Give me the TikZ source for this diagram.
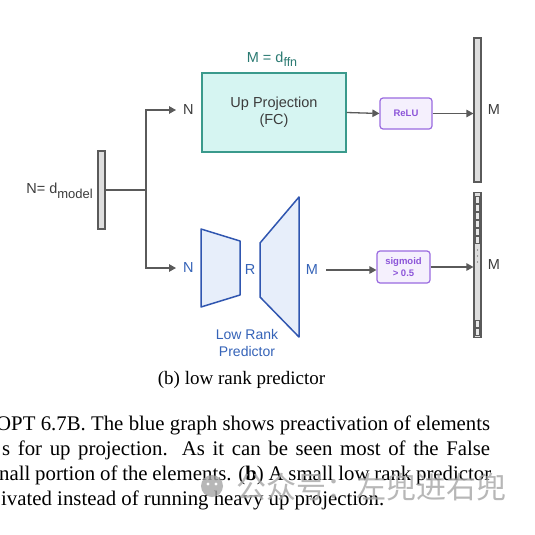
\documentclass[tikz,border=0pt]{standalone}
\usepackage{fontspec}
\setmainfont{Liberation Serif}
\setsansfont{Liberation Sans}
\newfontfamily\cjk{Noto Sans CJK SC}
\usetikzlibrary{arrows.meta,positioning}
\definecolor{lineg}{HTML}{5A5A5A}
\definecolor{barfill}{HTML}{DEDEDE}
\definecolor{labg}{HTML}{3C3C3C}
\definecolor{tealdraw}{HTML}{3A9A8C}
\definecolor{tealfill}{HTML}{D6F5F2}
\definecolor{tealtext}{HTML}{2A7A72}
\definecolor{actdraw}{HTML}{9A6BE0}
\definecolor{actfill}{HTML}{F5F0FD}
\definecolor{acttext}{HTML}{8C55D9}
\definecolor{trapdraw}{HTML}{3056B0}
\definecolor{trapfill}{HTML}{E7EEFA}
\definecolor{traptext}{HTML}{3563B8}
\newcommand{\lowsub}[2]{#1\raisebox{-4pt}{\fontsize{#2}{#2}\selectfont}}
\tikzset{
  vbar/.style={draw=lineg,fill=barfill,line width=1.2pt,minimum width=7pt,inner sep=0pt},
  lbl/.style={font=\sffamily\fontsize{14.5}{17}\selectfont,text=labg,inner sep=0pt},
  trlbl/.style={lbl,text=traptext},
  link/.style={draw=lineg,line width=1.3pt},
  arr/.style={link,-{Triangle[length=7pt,width=7.5pt]}},
  projbox/.style={draw=tealdraw,fill=tealfill,line width=1.2pt,minimum width=144pt,minimum height=79pt,align=center,
    font=\sffamily\fontsize{14.5}{17}\selectfont,text=labg},
  actbox/.style={draw=actdraw,fill=actfill,line width=1.2pt,rounded corners=3pt,align=center,inner sep=0pt,
    font=\sffamily\bfseries\fontsize{9.5}{11.5}\selectfont,text=acttext},
  trap/.style={draw=trapdraw,fill=trapfill,line width=1.5pt,line join=round},
  cell/.style={draw=lineg,fill=barfill!70!white,line width=0.5pt},
  capt/.style={font=\rmfamily\fontsize{19}{21}\selectfont,inner sep=0pt,anchor=base},
  bodyline/.style={font=\rmfamily\fontsize{20.8}{25}\selectfont,inner sep=0pt,anchor=base west},
  wmark/.style={font=\cjk\fontsize{30}{30}\selectfont,text=black!35,opacity=0.8,inner sep=0pt,anchor=west}
}
\begin{document}
\begin{tikzpicture}[x=1pt,y=-1pt]
\clip(0,0)rectangle(535,535);
\fill[white](0,0)rectangle(535,535);
\pgfmathsetmacro{\barx}{477.5}
\pgfmathsetmacro{\upy}{110}
\pgfmathsetmacro{\lowy}{268}
\node[vbar,minimum height=78pt](inp)at(101.5,190){};
\node[lbl,anchor=base east](nmodel)at(93,193){N= d\raisebox{-5pt}{\fontsize{13}{13}\selectfont model}};
\coordinate(split)at(146,190);
\draw[link](inp.east)--(split);
\coordinate(upin)at(176,\upy);
\coordinate(lowin)at(176,\lowy);
\draw[arr](split)|-(upin);
\draw[arr](split)|-(lowin);
\node[lbl,right=7pt of upin](nup){N};
\node[trlbl,right=7pt of lowin](nlow){N};
\node[projbox](upproj)at(274,112.5){Up Projection\\(FC)};
\node[lbl,text=tealtext,anchor=base](mffn)at(272,63){M = d\raisebox{-4pt}{\fontsize{12.5}{12.5}\selectfont ffn}};
\node[actbox,minimum width=52pt,minimum height=31pt](relu)at(406,113.5){ReLU};
\node[vbar,minimum height=144pt](outup)at(\barx,110){};
\node[lbl,right=6pt of outup](mup){M};
\draw[arr](upproj.east)--(relu.west);
\draw[arr](relu.east)--(relu.east-|outup.west);
\draw[trap](201,229)--(240,241)--(240,295)--(201,307)--cycle;
\draw[trap](260,243)--(299,197)--(299,337)--(260,297)--cycle;
\node[trlbl](rlab)at(250,270){R};
\node[trlbl](mlow)at(312,270){M};
\node[trlbl,align=center,font=\sffamily\fontsize{14}{17}\selectfont](lrp)at(247,342.5){Low Rank\\Predictor};
\node[actbox,minimum width=53pt,minimum height=32pt](sig)at(403.5,267){sigmoid\\> 0.5};
\node[vbar,minimum height=145pt](outlow)at(\barx,265){};
\node[lbl,right=6pt of outlow](mlo){M};
\draw[arr]([xshift=8pt]mlow.east)--(sig.west|-mlow.east);
\draw[arr](sig.east)--(sig.east-|outlow.west);
\foreach \k in {0,...,5}{\draw[cell](\barx-2,196+\k*8)rectangle++(4,7);}
\foreach \k in {0,1}{\draw[cell](\barx-2,320+\k*8)rectangle++(4,7);}
\foreach \dy in {250,256,262}{\fill[lineg](\barx,\dy)circle(0.7);}
\node[capt](subcap)at(241.5,384){(b) low rank predictor};
\node[bodyline](ln1)at(-4,430){\makebox[494pt][s]{OPT 6.7B. The blue graph shows preactivation of elements}};
\node[bodyline](ln2)at(2,455){\makebox[488pt][s]{s for up projection. As it can be seen most of the False}};
\node[bodyline](ln3)at(-1,480){\makebox[492pt][s]{nall portion of the elements. (\textbf{b}) A small low rank predictor}};
\node[bodyline](ln4)at(1,505){ivated instead of running heavy up projection.};
\fill[black!35,opacity=0.8](212,486)circle(11);
\fill[white](208,484)circle(1.6);
\fill[white](216,484)circle(1.6);
\node[wmark](wm)at(236,487){公众号：左兜进右兜};
\end{tikzpicture}
\end{document}
